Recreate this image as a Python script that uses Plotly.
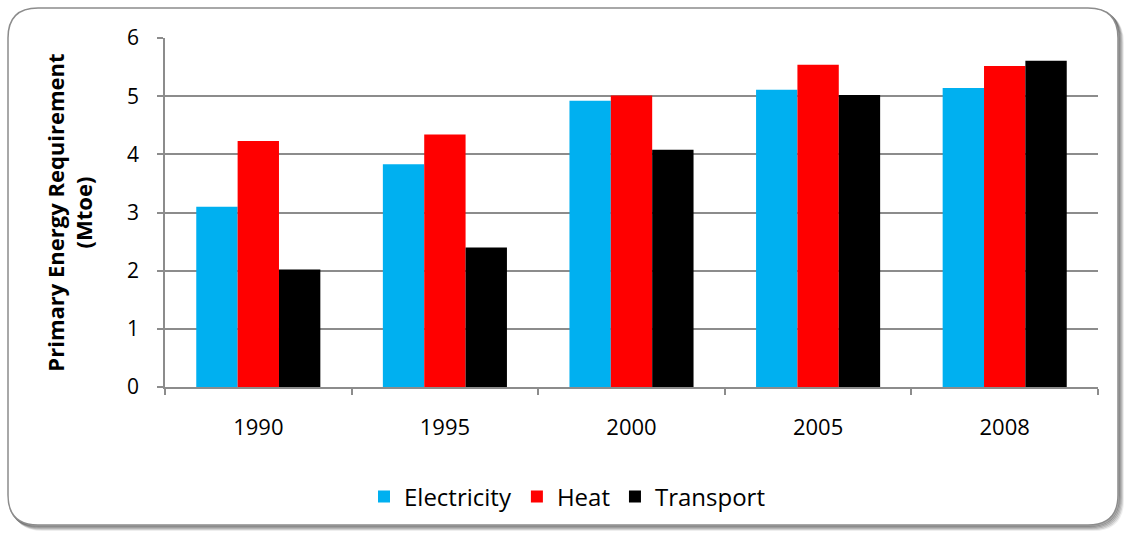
import plotly.graph_objects as go

years = ["1990", "1995", "2000", "2005", "2008"]
electricity = [3.10, 3.83, 4.92, 5.11, 5.14]
heat = [4.23, 4.34, 5.01, 5.54, 5.52]
transport = [2.02, 2.40, 4.08, 5.02, 5.61]

series = [
    ("Electricity", electricity, "#00B0F0"),
    ("Heat", heat, "#FF0000"),
    ("Transport", transport, "#000000"),
]

W, H = 1126, 533
ML, MR, MT, MB = 165, 28, 38, 146
PW, PH = W - ML - MR, H - MT - MB


def px(x):
    return (x - ML) / PW


def py(y):
    return (H - MB - y) / PH


def rounded_rect(x0, y0, x1, y1, r):
    return (
        f"M {px(x0 + r)},{py(y0)} L {px(x1 - r)},{py(y0)} "
        f"Q {px(x1)},{py(y0)} {px(x1)},{py(y0 + r)} "
        f"L {px(x1)},{py(y1 - r)} "
        f"Q {px(x1)},{py(y1)} {px(x1 - r)},{py(y1)} "
        f"L {px(x0 + r)},{py(y1)} "
        f"Q {px(x0)},{py(y1)} {px(x0)},{py(y1 - r)} "
        f"L {px(x0)},{py(y0 + r)} "
        f"Q {px(x0)},{py(y0)} {px(x0 + r)},{py(y0)} Z"
    )


fig = go.Figure()
for name, vals, color in series:
    fig.add_trace(go.Bar(
        name=name, x=years, y=vals,
        marker=dict(color=color, line=dict(width=0)),
    ))

# chart frame with a soft drop shadow on the right and bottom
shapes = []
for i, op in enumerate([0.5, 0.4, 0.3, 0.2, 0.1]):
    d = i + 1
    shapes.append(dict(
        type="path", xref="paper", yref="paper",
        path=rounded_rect(8 + d, 8 + d, 1118 + d, 525 + d, 30),
        line=dict(color=f"rgba(90,90,90,{op})", width=2),
        layer="below",
    ))
shapes.append(dict(
    type="path", xref="paper", yref="paper",
    path=rounded_rect(8, 8, 1118, 525, 30),
    fillcolor="white", line=dict(color="#8C8C8C", width=1.5),
    layer="below",
))

font = "Open Sans, Lato, sans-serif"
fig.update_layout(
    width=W, height=H,
    margin=dict(l=ML, r=MR, t=MT, b=MB),
    paper_bgcolor="white", plot_bgcolor="rgba(0,0,0,0)",
    barmode="group", bargap=0.335, bargroupgap=0,
    font=dict(family=font, size=22, color="#000000"),
    shapes=shapes,
    showlegend=True,
    legend=dict(
        orientation="h", x=px(364), xanchor="left", y=-0.315, yanchor="middle",
        font=dict(size=24), itemwidth=30, traceorder="normal",
        bgcolor="rgba(0,0,0,0)",
    ),
    xaxis=dict(
        type="category", showline=True, linecolor="#8C8C8C", linewidth=1.5,
        ticks="outside", tickson="boundaries", ticklen=6, tickcolor="#8C8C8C",
        tickwidth=1.5, showgrid=False, tickfont=dict(size=22),
        ticklabelstandoff=20,
    ),
    yaxis=dict(
        range=[0, 6], dtick=1, showline=True, linecolor="#8C8C8C", linewidth=1.5,
        ticks="outside", ticklen=6, tickcolor="#8C8C8C", tickwidth=1.5,
        showgrid=True, gridcolor="#8C8C8C", gridwidth=1.5,
        zeroline=False, tickfont=dict(size=21), ticklabelstandoff=14,
        title=dict(
            text="<b>Primary Energy Requirement<br>(Mtoe)</b>",
            font=dict(size=22), standoff=28,
        ),
    ),
)

fig.write_html("out.html")
